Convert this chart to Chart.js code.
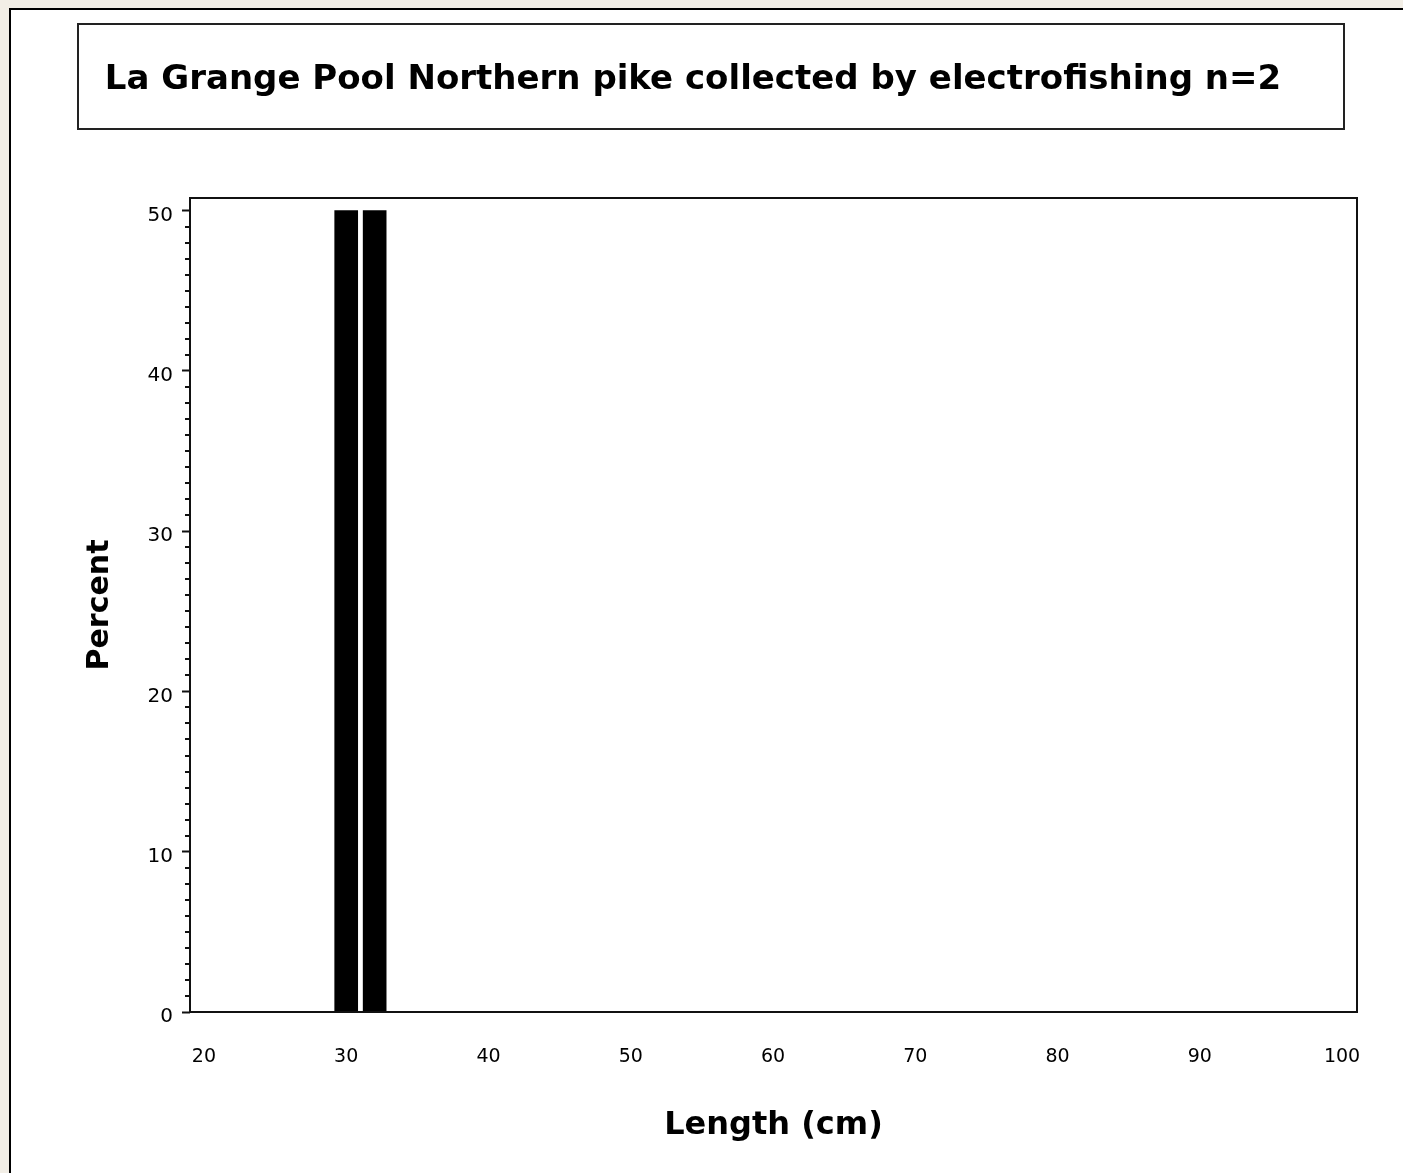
<!DOCTYPE html>
<html>
<head>
<meta charset="utf-8">
<script src="https://cdn.jsdelivr.net/npm/chart.js@4"></script>
<style>
  html, body { margin: 0; padding: 0; width: 1403px; height: 1173px; overflow: hidden; background: #f2eee6; }
  #panel { position: absolute; left: 9px; top: 8px; width: 1400px; height: 1170px; background: #fff;
           border-left: 2px solid #000; border-top: 2px solid #000; }
  #c { position: absolute; left: 0; top: 0; }
</style>
</head>
<body>
<div id="panel"></div>
<canvas id="c" width="1403" height="1173"></canvas>
<script>
// Length-frequency of Northern pike (electrofishing), percent per length bin
const titleText = 'La Grange Pool Northern pike collected by electrofishing n=2';
const lengthsCm = [30, 32];
const percents = [50, 50];
const xTickValues = [20, 30, 40, 50, 60, 70, 80, 90, 100];
const yTickValues = [0, 10, 20, 30, 40, 50];

const FONT = "'DejaVu Sans', Verdana, sans-serif";

// box around the chart title, frame around the plot, minor ticks on the y axis
const decorations = {
  id: 'decorations',
  afterDraw(chart) {
    const ctx = chart.ctx;
    const area = chart.chartArea;
    const y = chart.scales.y;
    ctx.save();
    ctx.strokeStyle = '#222';
    ctx.lineWidth = 2;
    ctx.strokeRect(78, 24, 1266, 105);
    ctx.strokeStyle = '#111';
    ctx.strokeRect(area.left, area.top, area.right - area.left, area.bottom - area.top);
    ctx.beginPath();
    for (let v = 1; v < 50; v++) {
      if (v % 10 === 0) continue;
      const py = Math.round(y.getPixelForValue(v));
      ctx.moveTo(area.left - 5, py);
      ctx.lineTo(area.left, py);
    }
    ctx.stroke();
    ctx.restore();
  }
};

new Chart(document.getElementById('c'), {
  type: 'bar',
  data: {
    datasets: [{
      data: lengthsCm.map((x, i) => ({ x: x, y: percents[i] })),
      backgroundColor: '#000',
      borderWidth: 0,
      barThickness: 23
    }]
  },
  options: {
    responsive: false,
    animation: false,
    layout: { padding: { left: 29, right: 46, top: 0, bottom: 0 } },
    plugins: {
      legend: { display: false },
      tooltip: { enabled: false },
      title: {
        display: true,
        text: titleText,
        color: '#000',
        font: { family: FONT, size: 34, weight: 'bold', lineHeight: 1.2 },
        padding: { top: 59.6, bottom: 97.6 }
      }
    },
    scales: {
      x: {
        type: 'linear',
        min: 19.02,
        max: 101.05,
        offset: false,
        grid: { display: false, drawTicks: false },
        border: { display: false },
        afterBuildTicks: s => { s.ticks = xTickValues.map(v => ({ value: v })); },
        afterFit: s => { s.height = 161; s.paddingLeft = 0; s.paddingRight = 0; },
        ticks: {
          color: '#000',
          padding: 33.6,
          maxRotation: 0,
          autoSkip: false,
          font: { family: FONT, size: 19 },
          callback: v => String(v)
        },
        title: {
          display: true,
          text: 'Length (cm)',
          color: '#000',
          font: { family: FONT, size: 32, weight: 'bold', lineHeight: 1.2 },
          padding: { top: 0, bottom: 27.8 }
        }
      },
      y: {
        type: 'linear',
        min: 0,
        max: 50.78,
        grid: { display: true, drawOnChartArea: false, drawTicks: true, tickLength: 8, tickColor: '#111', tickWidth: 2 },
        border: { display: false },
        afterBuildTicks: s => { s.ticks = yTickValues.map(v => ({ value: v })); },
        afterFit: s => { s.width = 161; },
        ticks: {
          color: '#000',
          padding: 9,
          labelOffset: 5,
          autoSkip: false,
          font: { family: FONT, size: 20 },
          callback: v => String(v)
        },
        title: {
          display: true,
          text: 'Percent',
          color: '#000',
          font: { family: FONT, size: 30, weight: 'bold', lineHeight: 1.2 },
          padding: { top: 53, bottom: 0 }
        }
      }
    }
  },
  plugins: [decorations]
});
</script>
</body>
</html>
